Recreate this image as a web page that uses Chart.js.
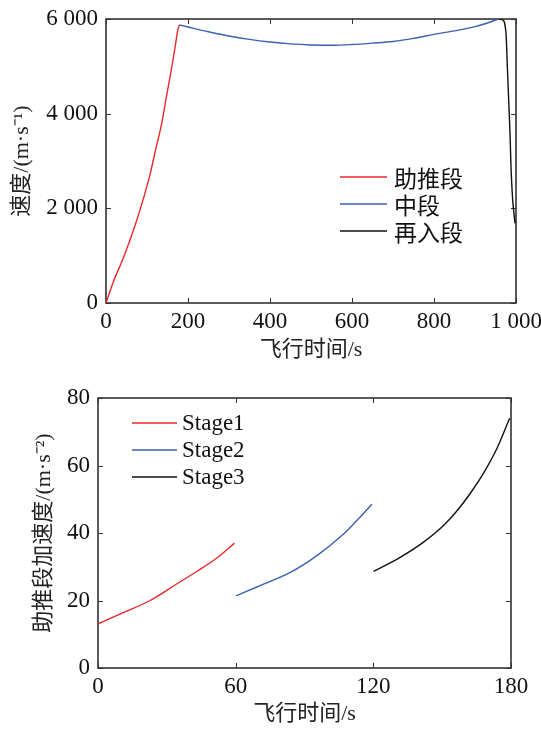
<!DOCTYPE html>
<html>
<head>
<meta charset="utf-8">
<script src="https://cdn.jsdelivr.net/npm/chart.js@4"></script>
<style>
  html, body { margin: 0; padding: 0; background: #fff; }
  .box { position: absolute; left: 0; width: 541px; }
  #top-box { top: 0; height: 365px; }
  #bottom-box { top: 365px; height: 364px; }
</style>
</head>
<body>
<div class="box" id="top-box"><canvas id="speed-chart"></canvas></div>
<div class="box" id="bottom-box"><canvas id="accel-chart"></canvas></div>
<script>
// top chart: speed vs flight time
const boostTime = [0, 18, 42, 63, 75, 91, 107, 120, 136, 148, 160, 168, 176, 179];
const boostSpeed = [0, 450, 945, 1440, 1750, 2200, 2700, 3200, 3800, 4390, 4960, 5380, 5800, 5873];
const midTime = [179, 200, 250, 300, 350, 400, 450, 500, 550, 600, 650, 700, 750, 800, 850, 900, 950, 958];
const midSpeed = [5873, 5830, 5730, 5640, 5570, 5515, 5475, 5452, 5444, 5460, 5490, 5525, 5590, 5676, 5750, 5838, 5975, 6000];
const reentryTime = [958, 967.5, 975.6, 978.9, 982.1, 985.4, 987.8, 991.9, 995.9, 997.6];
const reentrySpeed = [6000, 5979, 5697, 4993, 4289, 3585, 2880, 2176, 1824, 1683];
const speedLabels = ['助推段', '中段', '再入段'];

// bottom chart: boost acceleration per stage
const stage1Time = [0, 11, 22.7, 32.9, 43, 51.8, 59.5];
const stage1Acc = [13.1, 16.4, 20, 24.3, 28.6, 32.6, 37];
const stage2Time = [60.2, 69.2, 83.8, 95.4, 107, 112.8, 119.4];
const stage2Acc = [21.4, 24, 28.3, 33.3, 39.7, 43.7, 48.5];
const stage3Time = [120.1, 131.7, 141.9, 150.6, 156.4, 162.2, 168.1, 173.9, 179.4];
const stage3Acc = [28.6, 32.8, 37.3, 42.2, 46.5, 51.7, 57.8, 65.1, 74];
const stageLabels = ['Stage1', 'Stage2', 'Stage3'];

const RED = '#e8282b';
const BLUE = '#3a60b2';
const BLACK = '#111111';
const SERIF = "'Liberation Serif', 'Noto Sans CJK SC', serif";

const pts = (xs, ys) => xs.map((x, i) => ({ x: x, y: ys[i] }));
const thousands = (v) => (v >= 1000 ? Math.floor(v / 1000) + ' ' + String(v % 1000).padStart(3, '0') : String(v));

// box round the plot and inward ticks on all four sides
const frameTicks = {
  id: 'frameTicks',
  beforeDatasetsDraw(chart) {
    const { ctx, chartArea: a, scales } = chart;
    ctx.save();
    ctx.strokeStyle = '#333';
    ctx.lineWidth = 1;
    scales.x.ticks.forEach((t) => {
      const px = Math.round(scales.x.getPixelForValue(t.value)) + 0.5;
      ctx.beginPath();
      ctx.moveTo(px, a.bottom); ctx.lineTo(px, a.bottom - 5);
      ctx.moveTo(px, a.top); ctx.lineTo(px, a.top + 5);
      ctx.stroke();
    });
    scales.y.ticks.forEach((t) => {
      const py = Math.round(scales.y.getPixelForValue(t.value)) + 0.5;
      ctx.beginPath();
      ctx.moveTo(a.left, py); ctx.lineTo(a.left + 5, py);
      ctx.moveTo(a.right, py); ctx.lineTo(a.right - 5, py);
      ctx.stroke();
    });
    ctx.lineWidth = 1.6;
    ctx.strokeRect(a.left, a.top, a.right - a.left, a.bottom - a.top);
    ctx.restore();
  }
};

// legend drawn inside the plot like the original figure
const insideLegend = {
  id: 'insideLegend',
  afterDatasetsDraw(chart, args, opts) {
    const ctx = chart.ctx;
    ctx.save();
    ctx.font = opts.font;
    ctx.textBaseline = 'middle';
    ctx.fillStyle = '#111';
    chart.data.datasets.forEach((ds, i) => {
      const y = opts.y + i * opts.gap;
      ctx.strokeStyle = ds.borderColor;
      ctx.lineWidth = 1.5;
      ctx.beginPath();
      ctx.moveTo(opts.x, y);
      ctx.lineTo(opts.x + opts.lineLen, y);
      ctx.stroke();
      ctx.fillText(ds.label, opts.x + opts.lineLen + opts.textGap, y + 1);
    });
    ctx.restore();
  }
};

function lineSet(label, data, color) {
  return { label: label, data: data, borderColor: color, backgroundColor: color, borderWidth: 1.4, pointRadius: 0, cubicInterpolationMode: 'monotone', fill: false };
}

function makeOptions(cfg) {
  return {
    responsive: true,
    maintainAspectRatio: false,
    animation: false,
    layout: { padding: { left: 0, right: cfg.padRight, top: cfg.padTop, bottom: 0 } },
    plugins: {
      legend: { display: false },
      tooltip: { enabled: false },
      insideLegend: cfg.legend
    },
    scales: {
      x: {
        type: 'linear',
        min: cfg.xMin, max: cfg.xMax,
        grid: { display: false, drawTicks: false },
        border: { display: false },
        ticks: { stepSize: cfg.xStep, padding: 5, color: '#111', font: { family: SERIF, size: 23 }, callback: thousands, maxRotation: 0 },
        title: { display: true, text: '飞行时间/s', color: '#222', font: { family: SERIF, size: 22 }, padding: { top: 0, bottom: 2 } },
        afterFit(scale) { scale.height = cfg.xHeight; scale.paddingLeft = 0; scale.paddingRight = 0; }
      },
      y: {
        min: cfg.yMin, max: cfg.yMax,
        grid: { display: false, drawTicks: false },
        border: { display: false },
        ticks: { stepSize: cfg.yStep, padding: 8, color: '#111', font: { family: SERIF, size: 23 }, callback: thousands },
        title: { display: true, text: cfg.yTitle, color: '#222', font: { family: SERIF, size: 22 }, padding: { top: cfg.yTitlePad, bottom: 0 } },
        afterFit(scale) { scale.width = cfg.yWidth; scale.paddingTop = 0; scale.paddingBottom = 0; }
      }
    }
  };
}

new Chart(document.getElementById('speed-chart'), {
  type: 'line',
  data: {
    datasets: [
      lineSet(speedLabels[0], pts(boostTime, boostSpeed), RED),
      lineSet(speedLabels[1], pts(midTime, midSpeed), BLUE),
      lineSet(speedLabels[2], pts(reentryTime, reentrySpeed), BLACK)
    ]
  },
  options: makeOptions({
    padRight: 25, padTop: 19, xHeight: 62, yWidth: 106, yTitlePad: 9,
    xMin: 0, xMax: 1000, xStep: 200, yMin: 0, yMax: 6000, yStep: 2000,
    yTitle: '速度/(m·s⁻¹)',
    legend: { x: 340, y: 177, gap: 27, lineLen: 47, textGap: 7, font: "23px 'Noto Sans CJK SC', sans-serif" }
  }),
  plugins: [frameTicks, insideLegend]
});

new Chart(document.getElementById('accel-chart'), {
  type: 'line',
  data: {
    datasets: [
      lineSet(stageLabels[0], pts(stage1Time, stage1Acc), RED),
      lineSet(stageLabels[1], pts(stage2Time, stage2Acc), BLUE),
      lineSet(stageLabels[2], pts(stage3Time, stage3Acc), BLACK)
    ]
  },
  options: makeOptions({
    padRight: 30, padTop: 33, xHeight: 61, yWidth: 98, yTitlePad: 31,
    xMin: 0, xMax: 180, xStep: 60, yMin: 0, yMax: 80, yStep: 20,
    yTitle: '助推段加速度/(m·s⁻²)',
    legend: { x: 132, y: 58, gap: 27, lineLen: 45, textGap: 5, font: "23px 'Liberation Serif', serif" }
  }),
  plugins: [frameTicks, insideLegend]
});
</script>
</body>
</html>
